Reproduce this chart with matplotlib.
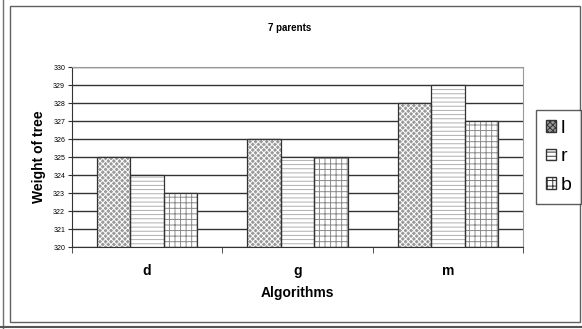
import matplotlib
matplotlib.use("Agg")
import matplotlib.pyplot as plt
from matplotlib.patches import Rectangle, Patch
import numpy as np

plt.rcParams['font.family'] = ['Liberation Sans', 'DejaVu Sans']
plt.rcParams['hatch.linewidth'] = 0.7

# dane wykresu
categories = ["d", "g", "m"]
series = ["l", "r", "b"]
values_l = [325, 326, 328]
values_r = [324, 325, 329]
values_b = [323, 325, 327]
yticks = list(range(320, 331))

# wygląd serii: (kolor tła, kreskowanie, kolor kreskowania)
styles = {
    "l": ("#9a9a9a", "xxxxxx", "#ffffff"),
    "r": ("#ffffff", "----", "#b0b0b0"),
    "b": ("#ffffff", "+++", "#8a8a8a"),
}

fig = plt.figure(figsize=(5.82, 3.29), dpi=100)
W, H = 582, 329

# ramki obrazka
fig.add_artist(Rectangle((10 / W, 1 - 322 / H), 570 / W, 316 / H,
                         transform=fig.transFigure, fill=False,
                         edgecolor="#606060", linewidth=1.0))
fig.add_artist(plt.Line2D([3 / W, 3 / W], [0, 1], transform=fig.transFigure,
                          color="#707070", linewidth=1.0))
fig.add_artist(plt.Line2D([0, 1], [1 - 327 / H] * 2, transform=fig.transFigure,
                          color="#555555", linewidth=1.5))

ax = fig.add_axes([72 / W, 1 - 247 / H, 451 / W, 180 / H])

x = np.arange(len(categories))
width = 0.222
all_values = [values_l, values_r, values_b]
for i, (name, vals) in enumerate(zip(series, all_values)):
    fc, hatch, hc = styles[name]
    pos = x + (i - 1) * width
    ax.bar(pos, np.array(vals) - 320, width, bottom=320, color=fc,
           hatch=hatch, edgecolor=hc, linewidth=0, zorder=3)
    ax.bar(pos, np.array(vals) - 320, width, bottom=320, fill=False,
           edgecolor="#333333", linewidth=0.9, zorder=4)

ax.set_xlim(-0.5, 2.5)
ax.set_ylim(320, 330)
ax.set_yticks(yticks)
ax.set_yticklabels([str(t) for t in yticks], fontsize=5)
ax.set_xticks(x)
ax.set_xticklabels(categories, fontsize=10, fontweight="bold")
ax.set_xticks([-0.5, 0.5, 1.5, 2.5], minor=True)
ax.tick_params(axis="x", which="major", length=0, pad=12)
ax.tick_params(axis="x", which="minor", length=4, color="#333333")
ax.tick_params(axis="y", length=3, pad=2, color="#333333")
ax.grid(axis="y", color="#333333", linewidth=1.0, zorder=0)

for s in ["top", "right"]:
    ax.spines[s].set_color("#999999")
for s in ["left", "bottom"]:
    ax.spines[s].set_color("#333333")

ax.set_xlabel("Algorithms", fontsize=10, fontweight="bold", labelpad=6)
ax.set_ylabel("Weight of tree", fontsize=10, fontweight="bold", labelpad=5)
fig.text(290 / W, 1 - 28 / H, "7 parents", fontsize=7, fontweight="bold",
         ha="center", va="center")

handles = []
for name in series:
    fc, hatch, hc = styles[name]
    handles.append(Patch(facecolor=fc, hatch=hatch, edgecolor="#333333"))
leg = fig.legend(handles, series, loc="upper left",
                 bbox_to_anchor=(536 / W, 1 - 110 / H), fontsize=14,
                 frameon=True, fancybox=False, edgecolor="#333333",
                 handlelength=0.55, handleheight=0.55, handletextpad=0.2,
                 labelspacing=0.6, borderpad=0.5, borderaxespad=0)
leg.get_frame().set_linewidth(1.0)

fig.savefig("out.png", dpi=100)
